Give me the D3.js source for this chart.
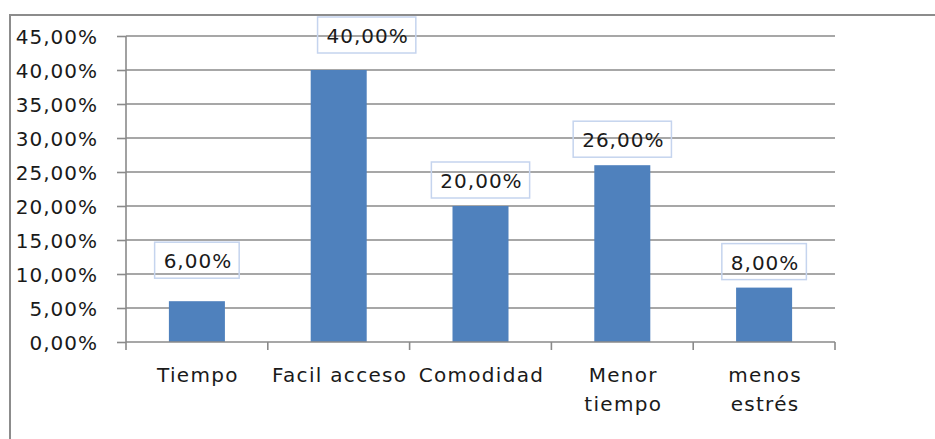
<!DOCTYPE html>
<html>
<head>
<meta charset="utf-8">
<script src="https://cdn.jsdelivr.net/npm/d3@7"></script>
<style>
  html, body { margin: 0; padding: 0; background: #fff; }
  svg { display: block; }
  text { font-family: "DejaVu Sans", Verdana, sans-serif; fill: #1a1a1a; }
</style>
</head>
<body>
<svg id="chart" width="935" height="439"></svg>
<script>
// ---- data ----
const categories = ["Tiempo", "Facil acceso", "Comodidad", "Menor\ntiempo", "menos\nestrés"];
const values = [0.06, 0.40, 0.20, 0.26, 0.08];
const yTicks = [0, 0.05, 0.10, 0.15, 0.20, 0.25, 0.30, 0.35, 0.40, 0.45];

// label placement tweaks (layout, as positioned in the original)
const labelGap = [23, 17, 8, 8, 8];
const labelDx = [0, 28, 0, 0, 0];

// ---- layout ----
const W = 935, H = 439;
const plot = { left: 126, right: 835, top: 36, bottom: 342 };
const svg = d3.select("#chart");

const loc = d3.formatLocale({ decimal: ",", thousands: ".", grouping: [3], currency: ["", "€"] });
const fmt = loc.format(".2%");

const x = d3.scaleBand().domain(categories).range([plot.left, plot.right])
  .paddingInner(0.605).paddingOuter(0.3025);
const y = d3.scaleLinear().domain([0, 0.45]).range([plot.bottom, plot.top]);
const step = x.step();

// outer border
svg.append("path")
  .attr("d", `M10,${H + 5} L10,15 L${W + 5},15`)
  .attr("fill", "none").attr("stroke", "#8c8c8c").attr("stroke-width", 2);

// gridlines
svg.append("g").selectAll("line").data(yTicks.filter(t => t > 0)).join("line")
  .attr("x1", plot.left).attr("x2", plot.right)
  .attr("y1", d => Math.round(y(d))).attr("y2", d => Math.round(y(d)))
  .attr("stroke", "#8a8a8a").attr("stroke-width", 1.6);

// y axis
const yAxis = d3.axisLeft(y).tickValues(yTicks).tickFormat(fmt).tickSize(9).tickPadding(0);
const gy = svg.append("g").attr("transform", `translate(${plot.left},0)`).call(yAxis);
gy.select(".domain").remove();
gy.selectAll(".tick line").attr("stroke", "#8a8a8a").attr("stroke-width", 1.6);
gy.selectAll(".tick text")
  .attr("x", -28).attr("dy", null).attr("y", 7)
  .attr("text-anchor", "end")
  .style("font-size", "20px").style("letter-spacing", "1px")
  .style("font-family", "'DejaVu Sans', Verdana, sans-serif").attr("fill", "#1a1a1a");
svg.append("line")
  .attr("x1", plot.left).attr("x2", plot.left)
  .attr("y1", plot.top).attr("y2", plot.bottom)
  .attr("stroke", "#8a8a8a").attr("stroke-width", 1.6);

// bars
svg.append("g").selectAll("rect").data(values).join("rect")
  .attr("x", (d, i) => x(categories[i]))
  .attr("width", x.bandwidth())
  .attr("y", d => y(d))
  .attr("height", d => plot.bottom - y(d))
  .attr("fill", "#4f81bd");

// x axis line and ticks at band boundaries
svg.append("line")
  .attr("x1", plot.left).attr("x2", plot.right)
  .attr("y1", plot.bottom).attr("y2", plot.bottom)
  .attr("stroke", "#8a8a8a").attr("stroke-width", 1.6);
const bounds = categories.map(c => x(c) - step * x.paddingInner() / 2).concat([plot.right]);
svg.append("g").selectAll("line").data(bounds).join("line")
  .attr("x1", d => d).attr("x2", d => d)
  .attr("y1", plot.bottom).attr("y2", plot.bottom + 8)
  .attr("stroke", "#8a8a8a").attr("stroke-width", 1.6);

// category labels
const cl = svg.append("g").selectAll("text").data(categories).join("text")
  .attr("x", d => x(d) + x.bandwidth() / 2 + 1)
  .attr("y", 382)
  .attr("text-anchor", "middle")
  .style("font-size", "20px").style("letter-spacing", "1.3px");
cl.selectAll("tspan").data(d => d.split("\n")).join("tspan")
  .attr("x", function () { return this.parentNode.getAttribute("x"); })
  .attr("dy", (d, i) => i === 0 ? 0 : 29)
  .text(d => d);

// value labels with boxes
const lg = svg.append("g").selectAll("g").data(values).join("g");
lg.each(function (d, i) {
  const g = d3.select(this);
  const cx = x(categories[i]) + x.bandwidth() / 2 + labelDx[i];
  const bottom = y(d) - labelGap[i];
  const top = bottom - 36;
  const t = g.append("text")
    .attr("x", cx + 1).attr("y", top + 26)
    .attr("text-anchor", "middle")
    .style("font-size", "20px").style("letter-spacing", "1px")
    .text(fmt(d));
  const w = t.node().getComputedTextLength() + 16;
  g.insert("rect", "text")
    .attr("x", cx - w / 2).attr("y", top)
    .attr("width", w).attr("height", 36)
    .attr("fill", "none").attr("stroke", "#c5d4ee").attr("stroke-width", 1.5);
});
</script>
</body>
</html>
